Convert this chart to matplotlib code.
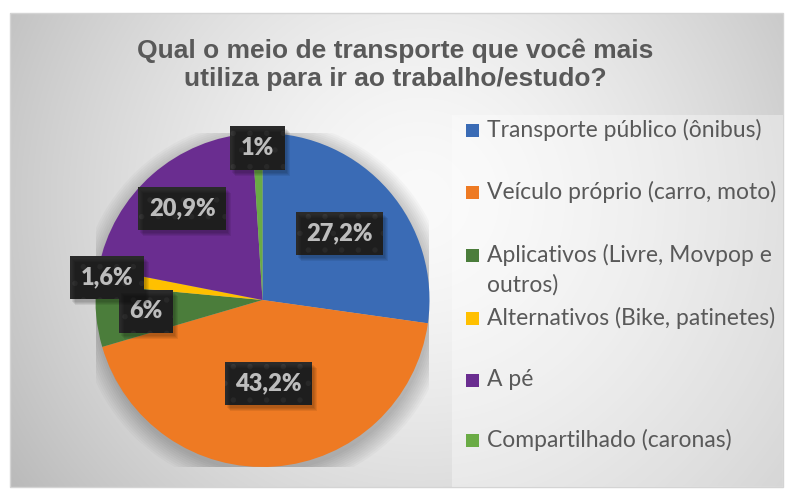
import numpy as np
import matplotlib
matplotlib.use("Agg")
import matplotlib.pyplot as plt
from matplotlib.patches import Rectangle, Circle
from matplotlib.transforms import IdentityTransform

# Dados
categorias = [
    "Transporte público (ônibus)",
    "Veículo próprio (carro, moto)",
    "Aplicativos (Livre, Movpop e\noutros)",
    "Alternativos (Bike, patinetes)",
    "A pé",
    "Compartilhado (caronas)",
]
valores = [27.2, 43.2, 6.0, 1.6, 20.9, 1.0]
rotulos = ["27,2%", "43,2%", "6%", "1,6%", "20,9%", "1%"]
cores = ["#3a6bb5", "#ee7a23", "#4b7d3b", "#ffc000", "#6a2d90", "#6aab45"]

# distancia radial dos rotulos (fração do raio)
dist_rotulos = [0.61, 0.50, 0.70, 0.94, 0.73, 0.91]

W, H = 787, 493
fig = plt.figure(figsize=(W / 100, H / 100), dpi=100)
fig.patch.set_facecolor("white")
plt.rcParams["hatch.linewidth"] = 1.5

# Fundo com gradiente radial
bg = fig.add_axes([0, 0, 1, 1], zorder=0)
yy, xx = np.mgrid[0:H, 0:W]
d = np.sqrt((xx - 420) ** 2 + (yy - 200) ** 2)
v = (250 - 55 * np.clip(d / 450, 0, 1.3) ** 1.5) / 255
img = np.dstack([v, v, v])
x0, y0, x1, y1 = 10, 13, 783, 487
bg.imshow(img[y0:y1, x0:x1], extent=(x0, x1, H - y1, H - y0), interpolation="bilinear")
bg.add_patch(Rectangle((x0, H - y1), x1 - x0, y1 - y0, fill=False, edgecolor="#d4d4d4", lw=1))
# caixa da legenda
bg.add_patch(Rectangle((452, H - y1), x1 - 452, y1 - 115, facecolor="white", alpha=0.35, lw=0))
bg.set_xlim(0, W)
bg.set_ylim(0, H)
bg.axis("off")

# Titulo
fig.text(395 / W, 1 - 65 / H, "Qual o meio de transporte que você mais\nutiliza para ir ao trabalho/estudo?",
         ha="center", va="center", fontsize=19, fontweight="bold", color="#595959",
         family="Liberation Sans", linespacing=1.2)

# Pizza
cx, cy, R = 262.5, 300, 167
ax = fig.add_axes([(cx - R) / W, (H - cy - R) / H, 2 * R / W, 2 * R / H], zorder=1)
for i in range(10):
    ax.add_patch(Circle((0.01, -0.03), 1 + 0.012 * i, color="black", alpha=0.022, lw=0, zorder=0))
wedges, _ = ax.pie(valores, colors=cores, startangle=90, counterclock=False,
                   wedgeprops=dict(linewidth=0))
ax.set_xlim(-1, 1)
ax.set_ylim(-1, 1)
ax.set_aspect("equal")
ax.axis("off")

textos = []
for w, txt, dr in zip(wedges, rotulos, dist_rotulos):
    ang = np.deg2rad((w.theta1 + w.theta2) / 2)
    x, y = dr * np.cos(ang), dr * np.sin(ang)
    t = ax.text(x, y, txt, ha="center", va="center", fontsize=17, fontweight="heavy",
                family="Lato", color="white", zorder=4,
                bbox=dict(boxstyle="square,pad=0.45", facecolor="#2a2a2a", edgecolor="#383838",
                          lw=0, hatch="."))
    textos.append(t)

# sombras das caixas dos rotulos
fig.canvas.draw()
for t in textos:
    bb = t.get_bbox_patch().get_window_extent()
    for k in range(4):
        fig.patches.append(Rectangle((bb.x0 + 2 + k, bb.y0 - 3 - k), bb.width, bb.height,
                                     transform=IdentityTransform(), facecolor="black",
                                     alpha=0.07, lw=0, zorder=1.5, figure=fig))

# Legenda
leg_y = [130, 192, 255, 318, 380, 440]
for cat, cor, ly in zip(categorias, cores, leg_y):
    bg.add_patch(Rectangle((466, H - ly - 6.5), 13, 13, facecolor=cor, lw=0))
    linhas = cat.split("\n")
    for k, ln in enumerate(linhas):
        fig.text(487 / W, 1 - (ly + 30 * k) / H, ln, ha="left", va="center",
                 fontsize=16.5, family="Lato", color="#595959")

fig.savefig("out.png", dpi=100)
